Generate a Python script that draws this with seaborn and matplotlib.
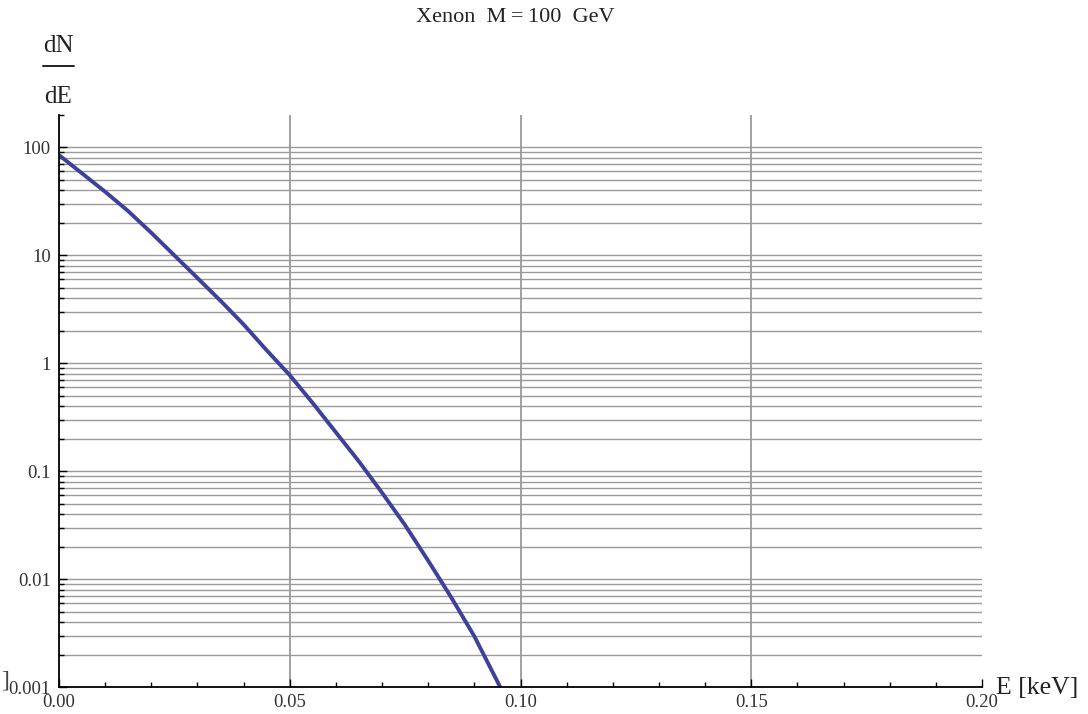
import numpy as np
import pandas as pd
import matplotlib
matplotlib.use("Agg")
import matplotlib.pyplot as plt
import matplotlib.ticker as mticker
from matplotlib.lines import Line2D
import seaborn as sns

# Data
energy_keV = [0.000, 0.005, 0.010, 0.015, 0.020, 0.025, 0.030, 0.035, 0.040, 0.045,
              0.050, 0.055, 0.060, 0.065, 0.070, 0.075, 0.080, 0.085, 0.090, 0.0956]
dN_dE = [85.1, 57.5, 38.9, 25.7, 16.2, 10.0, 6.17, 3.80, 2.29, 1.32,
         0.776, 0.427, 0.229, 0.123, 0.0631, 0.0316, 0.0148, 0.00676, 0.00295, 0.0010]

x_ticks = [0.00, 0.05, 0.10, 0.15, 0.20]
x_tick_labels = ["0.00", "0.05", "0.10", "0.15", "0.20"]
y_ticks = [0.001, 0.01, 0.1, 1, 10, 100]
y_tick_labels = ["0.001", "0.01", "0.1", "1", "10", "100"]

title_text = "Xenon  M\u2009=\u2009100  GeV"

sns.set_theme(style="white")
plt.rcParams['font.family'] = ['Liberation Serif', 'DejaVu Serif']

df = pd.DataFrame({"E": energy_keV, "dNdE": dN_dE})

fig = plt.figure(figsize=(10.88, 7.14), dpi=100)
ax = fig.add_axes([59/1088, 1-687/714, (982-59)/1088, (687-115)/714])

grid_color = "#9a9a9a"
ax.set_yscale("log")
ax.set_xlim(0, 0.20)
ax.set_ylim(0.001, 200)

# grid lines: horizontal at every major/minor decade value, vertical at inner x ticks
for dec in [0.001, 0.01, 0.1, 1, 10]:
    for m in range(1, 10):
        ax.axhline(dec*m, color=grid_color, lw=1.0, zorder=0)
ax.axhline(100, color=grid_color, lw=1.0, zorder=0)
for xv in x_ticks[1:-1]:
    ax.axvline(xv, color=grid_color, lw=1.3, zorder=0)

sns.lineplot(data=df, x="E", y="dNdE", ax=ax, color="#3f3f9c", lw=2.8, zorder=3)

ax.set_xlabel("")
ax.set_ylabel("")
for s in ["top", "right"]:
    ax.spines[s].set_visible(False)
for s in ["left", "bottom"]:
    ax.spines[s].set_color("black")
    ax.spines[s].set_linewidth(1.3)
    ax.spines[s].set_zorder(4)

ax.set_xticks(x_ticks)
ax.set_xticklabels(x_tick_labels)
ax.xaxis.set_minor_locator(mticker.MultipleLocator(0.01))
ax.set_yticks(y_ticks)
ax.set_yticklabels(y_tick_labels)
ax.yaxis.set_minor_locator(mticker.LogLocator(base=10, subs=np.arange(2, 10)))
ax.yaxis.set_minor_formatter(mticker.NullFormatter())

ax.tick_params(axis="both", which="major", direction="in", length=6, width=1.0,
               color="black", labelsize=13.5, labelcolor="#333333")
ax.tick_params(axis="both", which="minor", direction="in", length=3.5, width=1.0,
               color="black")
ax.tick_params(axis="x", which="both", bottom=True, pad=5)
ax.tick_params(axis="y", which="both", left=True, pad=6)

# 0.001 label sits slightly below its tick in the reference
for lab in ax.get_yticklabels():
    if lab.get_text() == "0.001":
        lab.set_va("top")
        lab.set_y(0.001)
fig.canvas.draw()
ylabs = ax.get_yticklabels()
ylabs[0].set_verticalalignment("center")
from matplotlib.transforms import ScaledTranslation
ylabs[0].set_transform(ylabs[0].get_transform() + ScaledTranslation(0, -3/100, fig.dpi_scale_trans))

fig.text(0.474, 0.976, title_text, ha="center", va="center", fontsize=16, color="#222222")
fig.text(58/1088, 1-46/714, "dN", ha="center", va="center", fontsize=18, color="#222222")
fig.add_artist(Line2D([43/1088, 74/1088], [1-66/714, 1-66/714], color="#222222", lw=1.4))
fig.text(58/1088, 1-97/714, "dE", ha="center", va="center", fontsize=18, color="#222222")
fig.text(1037/1088, 1-688/714, "E [keV]", ha="center", va="center", fontsize=18.5, color="#222222")
fig.text(5/1088, 1-681/714, "]", ha="center", va="center", fontsize=17, color="#444444")

fig.savefig("out.png", dpi=100)
